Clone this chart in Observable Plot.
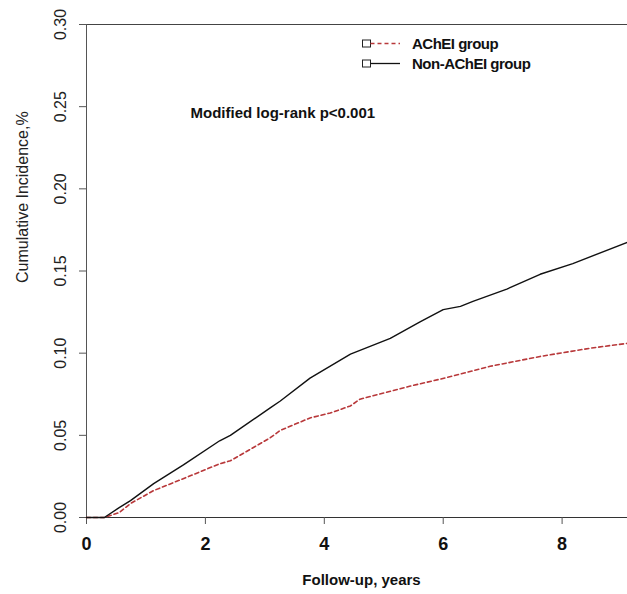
<!DOCTYPE html>
<html><head><meta charset="utf-8">
<script src="https://cdn.jsdelivr.net/npm/d3@7"></script>
<script src="https://cdn.jsdelivr.net/npm/@observablehq/plot@0.6"></script>
<style>
html,body{margin:0;padding:0;background:#fff;}
#chart{position:relative;width:627px;height:594px;overflow:hidden;}
#chart svg{font-family:"Liberation Sans",Arial,sans-serif;}
</style>
</head><body><div id="chart"></div>
<script>
// Non-AChEI group (solid black)
const nonTime = [0, 0.3, 0.55, 0.74, 1.13, 1.63, 2.24, 2.42, 3.09, 3.26, 3.76, 4.44, 5.11, 5.61, 6.0, 6.29, 6.5, 7.07, 7.63, 8.18, 9.1];
const nonInc  = [0, 0, 0.006, 0.0103, 0.0206, 0.032, 0.0467, 0.050, 0.0667, 0.0709, 0.0848, 0.0994, 0.109, 0.119, 0.1265, 0.1285, 0.1315, 0.139, 0.148, 0.1545, 0.1675];
// AChEI group (dashed red)
const acheiTime = [0, 0.3, 0.55, 0.74, 1.13, 1.68, 2.24, 2.42, 3.09, 3.26, 3.76, 4.10, 4.44, 4.6, 5.45, 5.95, 6.29, 6.79, 7.63, 8.47, 9.1];
const acheiInc  = [0, 0, 0.003, 0.0085, 0.0164, 0.0244, 0.0327, 0.0345, 0.0485, 0.053, 0.0606, 0.0636, 0.0679, 0.072, 0.080, 0.0842, 0.0873, 0.092, 0.098, 0.103, 0.106];

const xTicks = [0, 2, 4, 6, 8];
const yTicks = [0, 0.05, 0.10, 0.15, 0.20, 0.25, 0.30];
const yTickLabels = ["0.00", "0.05", "0.10", "0.15", "0.20", "0.25", "0.30"];
const seriesNames = ["AChEI group", "Non-AChEI group"];
const seriesColors = ["#b8383a", "#111111"];
const annotation = "Modified log-rank p<0.001";
const xLabel = "Follow-up, years";
const yLabel = "Cumulative Incidence,%";

const nonData = nonTime.map((t, i) => ({t, v: nonInc[i]}));
const acheiData = acheiTime.map((t, i) => ({t, v: acheiInc[i]}));
const yTickData = yTicks.map((v, i) => ({v, label: yTickLabels[i]}));

const chart = Plot.plot({
  width: 627, height: 594,
  marginLeft: 86, marginRight: 0, marginTop: 24, marginBottom: 77,
  x: {domain: [0, 9.1], label: null},
  y: {domain: [0, 0.30], label: null},
  marks: [
    Plot.ruleY([0.30], {stroke: "#444", strokeWidth: 1}),
    Plot.ruleY([0], {stroke: "#333", strokeWidth: 1}),
    Plot.ruleX([0], {stroke: "#555", strokeWidth: 1}),
    Plot.axisY(yTicks, {tickSize: 7, tickFormat: () => "", stroke: "#555", label: null}),
    Plot.text(yTickData, {x: 0, y: "v", text: "label", rotate: -90, dx: -26, fontSize: 16, fill: "#222"}),
    Plot.axisX(xTicks, {tickSize: 7, tickPadding: 13, fontSize: 18, fontWeight: "bold", stroke: "#555", fill: "#111", label: null}),
    Plot.text([xLabel], {frameAnchor: "bottom", dx: 4.5, dy: 67, fontSize: 15, fontWeight: "bold", fill: "#111", style: "letter-spacing:-0.6px"}),
    Plot.text([yLabel], {frameAnchor: "left", rotate: -90, dx: -64, dy: 12, fontSize: 16, fill: "#222"}),
    Plot.text([annotation], {frameAnchor: "top-left", dx: 104, dy: 83, textAnchor: "start", fontSize: 15, fontWeight: "bold", fill: "#111"}),
    Plot.line(acheiData, {x: "t", y: "v", stroke: seriesColors[0], strokeWidth: 1.6, strokeDasharray: "4,3"}),
    Plot.line(nonData, {x: "t", y: "v", stroke: seriesColors[1], strokeWidth: 1.4})
  ]
});
document.getElementById("chart").appendChild(chart);

// legend
const svg = d3.select(chart);
const lg = svg.append("g").attr("font-family", '"Liberation Sans",Arial,sans-serif').attr("text-anchor", "start");
const rows = [
  {name: seriesNames[0], color: seriesColors[0], dash: "4,3", y: 43.5},
  {name: seriesNames[1], color: seriesColors[1], dash: null, y: 63.5}
];
rows.forEach(r => {
  lg.append("rect").attr("x", 362.5).attr("y", r.y - 3.5).attr("width", 8).attr("height", 7)
    .attr("fill", "none").attr("stroke", "#222").attr("stroke-width", 1);
  const ln = lg.append("line").attr("x1", 370.5).attr("x2", 400).attr("y1", r.y).attr("y2", r.y)
    .attr("stroke", r.color).attr("stroke-width", 1.3);
  if (r.dash) ln.attr("stroke-dasharray", r.dash);
  lg.append("text").attr("x", 412).attr("y", r.y).attr("dy", "0.35em").attr("text-anchor", "start")
    .attr("font-size", 15).attr("font-weight", "bold").attr("letter-spacing", "-0.5px")
    .attr("fill", "#111").text(r.name);
});
</script>
</body></html>
